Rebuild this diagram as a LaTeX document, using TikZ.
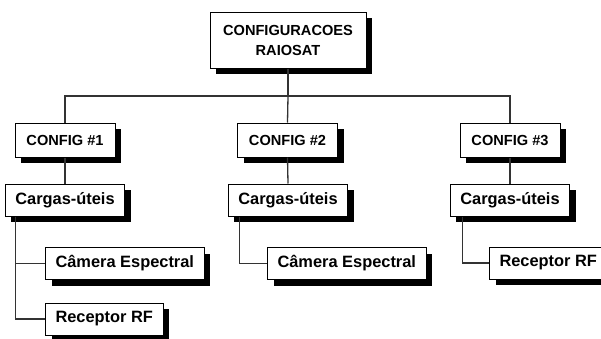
\documentclass[tikz,border=0pt]{standalone}
\usepackage{fontspec}
\setmainfont{Liberation Sans}
\usetikzlibrary{shadows}
\begin{document}
\begin{tikzpicture}[x=1pt,y=-1pt,
box/.style={draw=black, line width=1pt, fill=white, inner sep=0pt,
 drop shadow={shadow xshift=6pt, shadow yshift=-6pt, opacity=1, fill=black}},
head/.style={box, font=\fontsize{14.6}{20}\selectfont\bfseries, minimum width=100pt, minimum height=34pt},
item/.style={box, font=\fontsize{16.4}{20}\selectfont\bfseries, inner xsep=10pt, minimum height=32pt},
link/.style={draw=black!80, line width=1.3pt}]
\useasboundingbox (0,0) rectangle (601,338);
\node[head, align=center, minimum width=156pt, minimum height=56pt] (root) at (288,40) {CONFIGURACOES\\RAIOSAT};
\node[head] (c1) at (65,140) {CONFIG \#1};
\node[head] (c2) at (287.5,140) {CONFIG \#2};
\node[head] (c3) at (510,140) {CONFIG \#3};
\node[item] (cg1) at (65,200) {Cargas-úteis};
\node[item] (cg2) at (288,200) {Cargas-úteis};
\node[item] (cg3) at (510,200) {Cargas-úteis};
\node[item, anchor=west] (cam1) at (45,263.5) {Câmera Espectral};
\node[item, anchor=west] (rx1) at (45,319) {Receptor RF};
\node[item, anchor=west] (cam2) at (267,263.5) {Câmera Espectral};
\node[item, anchor=west] (rx3) at (489,263) {Receptor RF};
\coordinate (bus) at (288,96);
\draw[link] (root.south) -- (bus);
\draw[link] (c1.north) |- (bus) -| (c3.north);
\draw[link] (bus) -- (c2.north);
\draw[link] (c1.south) -- (cg1.north);
\draw[link] (c2.south) -- (cg2.north);
\draw[link] (c3.south) -- (cg3.north);
\draw[link] ([xshift=11pt]cg1.south west) |- (cam1.west);
\draw[link] ([xshift=11pt]cg1.south west) |- (rx1.west);
\draw[link] ([xshift=12pt]cg2.south west) |- (cam2.west);
\draw[link] ([xshift=13pt]cg3.south west) |- (rx3.west);
\end{tikzpicture}
\end{document}
